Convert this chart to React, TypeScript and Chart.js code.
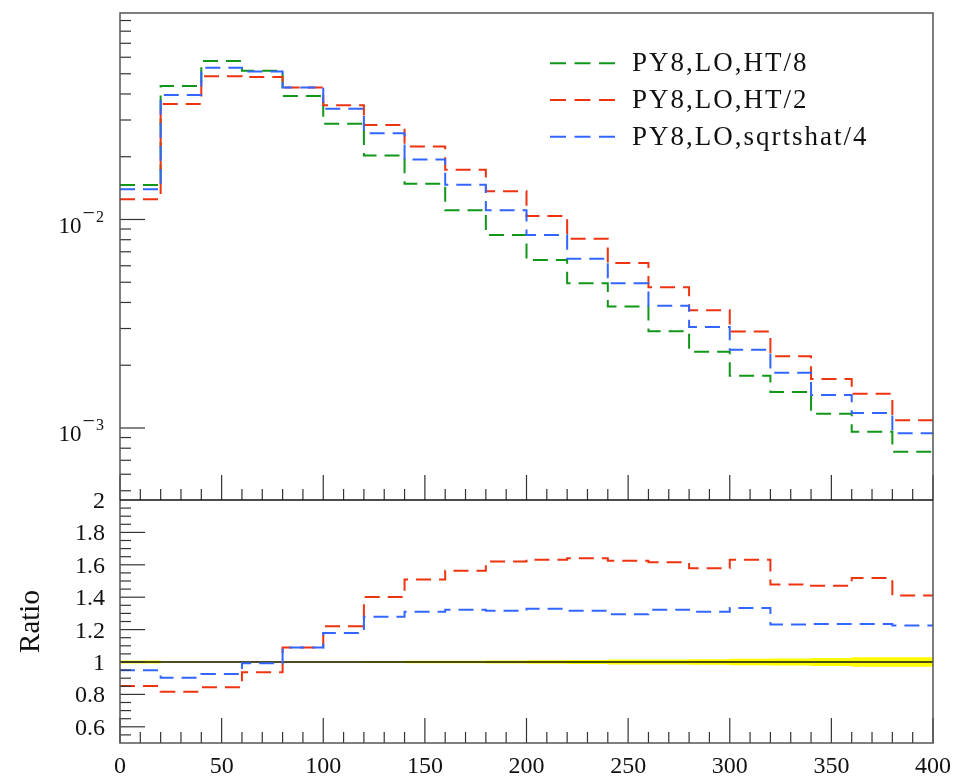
import React, { useEffect, useRef } from 'react';
import { Chart, registerables } from 'chart.js';

Chart.register(...registerables);

// ---------- data ----------
const binEdges = [0, 20, 40, 60, 80, 100, 120, 140, 160, 180, 200, 220, 240, 260, 280, 300, 320, 340, 360, 380, 400];

const seriesLabels = ['PY8,LO,HT/8', 'PY8,LO,HT/2', 'PY8,LO,sqrtshat/4'];
const seriesColors = ['#109618', '#EE3311', '#3366FF'];

const htOver8 = [0.01464, 0.0437, 0.0576, 0.0517, 0.0391, 0.0288, 0.0203, 0.01485, 0.01106, 0.00843, 0.00639, 0.00494, 0.00383, 0.00291, 0.00232, 0.00178, 0.00149, 0.00117, 0.00096, 0.00077];
const htOver2 = [0.0125, 0.0358, 0.0486, 0.0482, 0.0429, 0.0353, 0.0284, 0.0224, 0.01733, 0.01365, 0.0104, 0.00809, 0.00618, 0.00473, 0.00367, 0.0029, 0.00221, 0.00172, 0.00146, 0.00109];
const sqrtshatOver4 = [0.01396, 0.0395, 0.0535, 0.0512, 0.0429, 0.034, 0.0259, 0.0194, 0.01469, 0.01106, 0.00843, 0.00648, 0.00494, 0.00386, 0.00305, 0.00237, 0.00184, 0.00144, 0.00118, 0.000943];

const ratioHtOver2 = [0.852, 0.817, 0.844, 0.936, 1.09, 1.22, 1.401, 1.51, 1.563, 1.621, 1.631, 1.641, 1.625, 1.615, 1.578, 1.631, 1.479, 1.471, 1.518, 1.411];
const ratioSqrtshatOver4 = [0.949, 0.903, 0.926, 0.992, 1.09, 1.179, 1.28, 1.31, 1.323, 1.317, 1.329, 1.317, 1.294, 1.323, 1.31, 1.333, 1.232, 1.234, 1.234, 1.226];
const ratioReference = [1, 1, 1, 1, 1, 1, 1, 1, 1, 1, 1, 1, 1, 1, 1, 1, 1, 1, 1, 1];
const ratioUncertainty = [0.009, 0.004, 0.003, 0.003, 0.004, 0.005, 0.006, 0.007, 0.008, 0.009, 0.011, 0.013, 0.015, 0.015, 0.017, 0.02, 0.022, 0.025, 0.03, 0.03];

const xTickLabels = [0, 50, 100, 150, 200, 250, 300, 350, 400];
const ratioTickValues = [0.6, 0.8, 1, 1.2, 1.4, 1.6, 1.8, 2];
const ratioTickLabels = ['0.6', '0.8', '1', '1.2', '1.4', '1.6', '1.8', '2'];
const logTickValues = [1e-3, 1e-2];
const logTickExponentDigits = ['3', '2'];

const X_MIN = 0;
const X_MAX = 400;
const TOP_MIN = 4.515e-4;
const TOP_MAX = 0.0978;
const RATIO_MIN = 0.5;
const RATIO_MAX = 2;

const SERIF = '"Liberation Serif", "DejaVu Serif", serif';

function toSteps(values: number[]) {
  const pts = values.map((v, i) => ({ x: binEdges[i], y: v }));
  pts.push({ x: binEdges[binEdges.length - 1], y: values[values.length - 1] });
  return pts;
}

const decorPlugin = {
  id: 'decor',
  afterDraw(chart: any) {
    const ctx: CanvasRenderingContext2D = chart.ctx;
    const { left, right, top, bottom } = chart.chartArea;
    const xs = chart.scales.x;
    const yT = chart.scales.yTop;
    const yR = chart.scales.yRatio;
    const mid = yT.bottom;
    const line = (x1: number, y1: number, x2: number, y2: number) => {
      ctx.beginPath();
      ctx.moveTo(x1, y1);
      ctx.lineTo(x2, y2);
      ctx.stroke();
    };
    ctx.save();
    // ticks
    ctx.strokeStyle = '#333';
    ctx.lineWidth = 1.2;
    for (let v = X_MIN; v <= X_MAX; v += 10) {
      const px = xs.getPixelForValue(v);
      const len = v % 50 === 0 ? 25 : 11;
      line(px, mid, px, mid - len);
      line(px, bottom, px, bottom - len);
    }
    for (let e = -4; e <= -1; e++) {
      for (let m = 1; m <= 9; m++) {
        const v = m * Math.pow(10, e);
        if (v <= TOP_MIN || v >= TOP_MAX) continue;
        const py = yT.getPixelForValue(v);
        line(left, py, left + (m === 1 ? 25 : 11), py);
      }
    }
    for (let k = 11; k < 40; k++) {
      const v = k * 0.05;
      const py = yR.getPixelForValue(v);
      line(left, py, left + (k % 4 === 0 ? 25 : 11), py);
    }
    // frame
    ctx.strokeStyle = '#555';
    ctx.lineWidth = 1.5;
    ctx.strokeRect(left, top, right - left, bottom - top);
    ctx.strokeStyle = '#111';
    ctx.lineWidth = 1.4;
    line(left, mid, right, mid);

    // labels
    ctx.fillStyle = '#111';
    ctx.font = `24px ${SERIF}`;
    ctx.textAlign = 'center';
    ctx.textBaseline = 'alphabetic';
    xTickLabels.forEach((v) => {
      ctx.fillText(String(v), xs.getPixelForValue(v), bottom + 30);
    });
    ctx.textAlign = 'right';
    ratioTickValues.forEach((v, i) => {
      ctx.fillText(ratioTickLabels[i], left - 15, yR.getPixelForValue(v) + 8);
    });
    logTickValues.forEach((v, i) => {
      const py = yT.getPixelForValue(v);
      let xr = left - 16;
      ctx.font = `16px ${SERIF}`;
      const dW = ctx.measureText(logTickExponentDigits[i]).width;
      ctx.fillText(logTickExponentDigits[i], xr, py + 2.5);
      xr -= dW + 1;
      ctx.font = `22px ${SERIF}`;
      const mW = ctx.measureText('\u2212').width;
      ctx.fillText('\u2212', xr, py + 0.5);
      xr -= mW + 1;
      ctx.font = `23px ${SERIF}`;
      ctx.fillText('10', xr, py + 13.5);
    });
    // axis title
    ctx.save();
    ctx.font = `29px ${SERIF}`;
    ctx.translate(38.5, (yR.top + yR.bottom) / 2);
    ctx.rotate(-Math.PI / 2);
    ctx.textAlign = 'center';
    ctx.textBaseline = 'alphabetic';
    ctx.fillText('Ratio', 0, 0);
    ctx.restore();

    // legend
    ctx.font = `27px ${SERIF}`;
    (ctx as any).letterSpacing = '2px';
    ctx.textAlign = 'left';
    seriesLabels.forEach((lab, i) => {
      const ry = 63.3 + i * 36.7;
      ctx.strokeStyle = seriesColors[i];
      ctx.lineWidth = 2;
      ctx.setLineDash([16, 8.5]);
      line(550, ry, 615, ry);
      ctx.setLineDash([]);
      ctx.fillStyle = '#111';
      ctx.fillText(lab, 632, ry + 8);
    });
    (ctx as any).letterSpacing = '0px';
    ctx.restore();
  },
};

export default function App() {
  const ref = useRef<HTMLCanvasElement | null>(null);
  useEffect(() => {
    if (!ref.current) return;
    const hist = (label: string, values: number[], color: string, order: number, axis: string) => ({
      label,
      data: toSteps(values),
      yAxisID: axis,
      borderColor: color,
      backgroundColor: color,
      borderWidth: 2,
      borderDash: [15, 8],
      stepped: 'before' as const,
      pointRadius: 0,
      fill: false,
      order,
    });
    const chart = new Chart(ref.current, {
      type: 'line',
      data: {
        datasets: [
          {
            label: 'band-up',
            data: toSteps(ratioReference.map((r, i) => r + ratioUncertainty[i])),
            yAxisID: 'yRatio',
            borderWidth: 0,
            borderColor: 'rgba(0,0,0,0)',
            backgroundColor: '#ffff00',
            stepped: 'before',
            pointRadius: 0,
            fill: '+1',
            order: 20,
          },
          {
            label: 'band-down',
            data: toSteps(ratioReference.map((r, i) => r - ratioUncertainty[i])),
            yAxisID: 'yRatio',
            borderWidth: 0,
            borderColor: 'rgba(0,0,0,0)',
            backgroundColor: '#ffff00',
            stepped: 'before',
            pointRadius: 0,
            fill: false,
            order: 19,
          },
          {
            label: 'reference',
            data: toSteps(ratioReference),
            yAxisID: 'yRatio',
            borderWidth: 1.3,
            borderColor: '#111',
            stepped: 'before',
            pointRadius: 0,
            fill: false,
            order: 10,
          },
          hist(seriesLabels[0], htOver8, seriesColors[0], 3, 'yTop'),
          hist(seriesLabels[1], htOver2, seriesColors[1], 2, 'yTop'),
          hist(seriesLabels[2], sqrtshatOver4, seriesColors[2], 1, 'yTop'),
          hist(seriesLabels[1], ratioHtOver2, seriesColors[1], 2, 'yRatio'),
          hist(seriesLabels[2], ratioSqrtshatOver4, seriesColors[2], 1, 'yRatio'),
        ] as any,
      },
      options: {
        animation: false,
        responsive: false,
        devicePixelRatio: 1,
        parsing: true,
        layout: { padding: { left: 120, right: 22, top: 13, bottom: 37 } },
        plugins: { legend: { display: false }, tooltip: { enabled: false } },
        events: [],
        scales: {
          x: {
            type: 'linear',
            min: X_MIN,
            max: X_MAX,
            ticks: { display: false },
            grid: { display: false },
            border: { display: false },
            afterFit: (s: any) => { s.height = 0; },
          },
          yRatio: {
            type: 'linear',
            position: 'left',
            stack: 'panels',
            stackWeight: 243,
            min: RATIO_MIN,
            max: RATIO_MAX,
            ticks: { display: false },
            grid: { display: false },
            border: { display: false },
            afterFit: (s: any) => { s.width = 0; },
          },
          yTop: {
            type: 'logarithmic',
            position: 'left',
            stack: 'panels',
            stackWeight: 487,
            min: TOP_MIN,
            max: TOP_MAX,
            ticks: { display: false },
            grid: { display: false },
            border: { display: false },
            afterFit: (s: any) => { s.width = 0; },
          },
        } as any,
      },
      plugins: [decorPlugin],
    });
    return () => chart.destroy();
  }, []);
  return (
    <div style={{ position: 'absolute', left: 0, top: 0, width: 955, height: 780, background: '#fff' }}>
      <canvas ref={ref} width={955} height={780} style={{ position: 'absolute', left: 0, top: 0 }} />
    </div>
  );
}
